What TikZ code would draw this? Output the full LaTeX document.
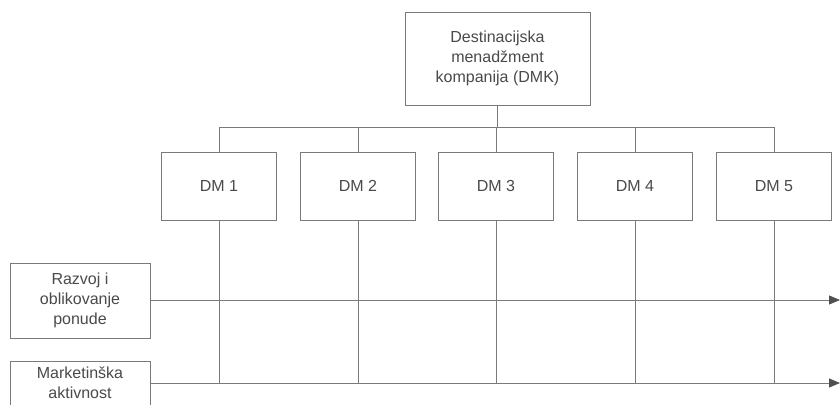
\documentclass[tikz,border=0pt]{standalone}
\usepackage{fontspec}
\setmainfont{Liberation Sans}
\usetikzlibrary{arrows.meta}
\definecolor{txtc}{HTML}{4A4A4A}
\definecolor{linec}{HTML}{7A7A7A}
\definecolor{tipc}{HTML}{505050}
\begin{document}
\begin{tikzpicture}[x=1pt,y=-1pt,
  box/.style={draw=linec, line width=0.8pt, fill=white, inner sep=0pt, text=txtc, align=center, font=\fontsize{16}{20}\selectfont},
  lab/.style={text=txtc, align=center, inner sep=0pt, font=\fontsize{16}{20}\selectfont},
  conn/.style={draw=linec, line width=0.8pt},
  arr/.style={conn, -{Triangle[length=11pt,width=9pt,fill=tipc,color=tipc]}}]
\useasboundingbox (0,0) rectangle (840,404);
\clip (0,0) rectangle (840,404);
% top box
\node[box, minimum width=185, minimum height=93] (dmk) at (497.5,58.5) {Destinacijska\\menadžment\\kompanija (DMK)};
% DM boxes
\foreach \i/\x in {1/219,2/358,3/496,4/635,5/774}{
  \node[box, minimum width=115, minimum height=68] (dm\i) at (\x,186) {DM \i};
}
% left boxes
\node[box, minimum width=140, minimum height=75] (raz) at (80,300.5) {Razvoj i\\oblikovanje\\ponude};
\node[box, minimum width=140, minimum height=70, anchor=north] (mkt) at (80,361) {};
\node[lab, anchor=north] (mkttxt) at ([yshift=-6pt]mkt.north) {Marketinška\\aktivnost};
% coordinates
\coordinate (bus) at (497.5,127);
\coordinate (e1) at (840,300);
\coordinate (e2) at (840,383);
% connectors
\draw[conn] (dmk.south) -- (bus);
\draw[conn] (dm1.north |- bus) -- (dm5.north |- bus);
\foreach \i in {1,...,5}{
  \draw[conn] (dm\i.north) -- (dm\i.north |- bus);
  \draw[conn] (dm\i.south) -- (dm\i.south |- e2);
}
\draw[arr] (raz.east |- e1) -- (e1);
\draw[arr] (mkt.east |- e2) -- (e2);
\end{tikzpicture}
\end{document}
